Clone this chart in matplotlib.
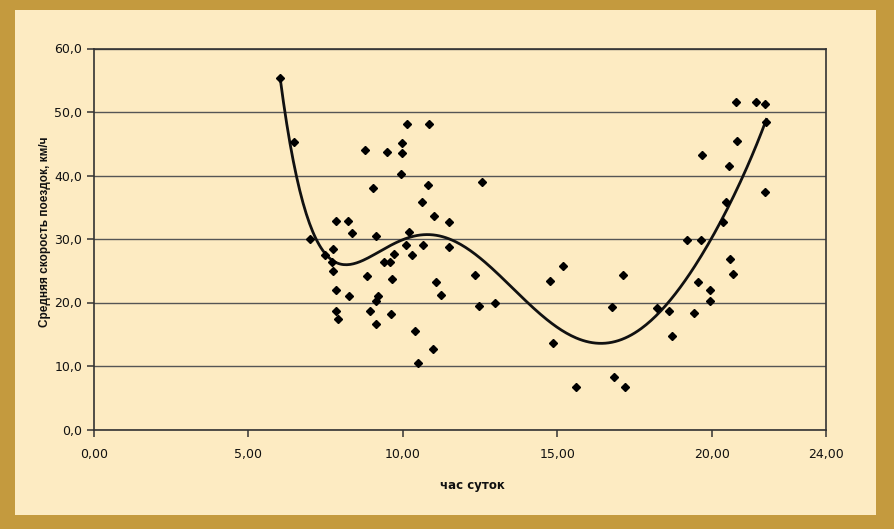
import numpy as np
import matplotlib
matplotlib.use("Agg")
import matplotlib.pyplot as plt
from matplotlib.patches import Rectangle

# час суток / средняя скорость (км/ч)
hours = [6.03, 6.48, 7.00, 7.49, 7.74, 7.71, 7.74, 7.82, 8.21, 8.35,
         7.84, 8.26, 7.82, 7.91, 8.76, 8.84, 8.95, 9.03, 9.14, 9.18,
         9.14, 9.14, 9.40, 9.57, 9.49, 9.60, 9.66, 9.72, 9.93, 9.97,
         9.97, 10.13, 10.19, 10.11, 10.31, 10.38, 10.48, 10.63, 10.64, 10.80,
         10.85, 10.98, 11.02, 11.06, 11.23, 11.49, 11.51, 12.32, 12.47, 12.55,
         12.98, 14.78, 14.86, 15.19, 15.61, 16.77, 16.83, 17.12, 17.18, 18.24,
         18.62, 18.71, 19.21, 19.43, 19.54, 19.64, 19.68, 19.94, 19.94, 20.35,
         20.45, 20.57, 20.59, 20.69, 20.78, 20.83, 21.42, 21.72, 21.74, 21.77]
speed = [55.3, 45.2, 30.0, 27.5, 28.5, 26.3, 25.0, 32.8, 32.8, 30.9,
         21.9, 21.0, 18.7, 17.4, 44.0, 24.2, 18.7, 38.1, 30.5, 21.1,
         20.3, 16.6, 26.4, 26.3, 43.7, 18.2, 23.7, 27.6, 40.2, 45.1,
         43.5, 48.1, 31.1, 29.1, 27.5, 15.5, 10.4, 35.9, 29.1, 38.5,
         48.1, 12.7, 33.7, 23.3, 21.2, 32.6, 28.8, 24.4, 19.4, 39.0,
         19.9, 23.4, 13.6, 25.7, 6.7, 19.3, 8.3, 24.4, 6.7, 19.1,
         18.7, 14.7, 29.8, 18.3, 23.3, 29.8, 43.2, 22.0, 20.2, 32.6,
         35.9, 41.5, 26.8, 24.5, 51.6, 45.5, 51.6, 37.4, 51.2, 48.5]

xticks = [0, 5, 10, 15, 20, 23.7]
xtick_labels = ["0,00", "5,00", "10,00", "15,00", "20,00", "24,00"]
yticks = [0, 10, 20, 30, 40, 50, 60]
ytick_labels = ["0,0", "10,0", "20,0", "30,0", "40,0", "50,0", "60,0"]

gold = "#C49A3E"
cream = "#FDEBC2"
ink = "#111111"

fig = plt.figure(figsize=(8.95, 5.29), dpi=100, facecolor=gold)
fig.patches.append(Rectangle((15 / 895, 14 / 529), 861 / 895, 505 / 529,
                             transform=fig.transFigure, facecolor=cream,
                             edgecolor="none", zorder=-10))

ax = fig.add_axes([94 / 895, 99.5 / 529, 732 / 895, 381 / 529])
ax.set_facecolor(cream)

# линия тренда (полином 6-й степени)
coef = np.polyfit(hours, speed, 6)
xs = np.linspace(min(hours), max(hours), 300)
ax.plot(xs, np.polyval(coef, xs), color=ink, lw=2.0, zorder=3)

ax.plot(hours, speed, linestyle="none", marker="D", markersize=4.2,
        color="black", zorder=4)

ax.set_xlim(0, 23.7)
ax.set_ylim(0, 60)
ax.set_xticks(xticks)
ax.set_xticklabels(xtick_labels)
ax.set_yticks(yticks)
ax.set_yticklabels(ytick_labels)
ax.yaxis.grid(True, color="#555555", lw=1.0)
ax.set_axisbelow(True)
for s in ax.spines.values():
    s.set_color("#333333")
    s.set_linewidth(1.2)
ax.tick_params(axis="both", colors="#333333", length=5, width=1.1,
               labelsize=9, labelcolor=ink)
for lab in ax.get_xticklabels() + ax.get_yticklabels():
    lab.set_family(["Liberation Sans Narrow", "DejaVu Sans"])
ax.tick_params(axis="x", pad=8)

fig.text(45 / 895, 1 - 232 / 529, "Средняя скорость поездок, км/ч",
         rotation=90, ha="center", va="center", fontsize=8.5,
         fontweight="bold", color=ink, family=["Liberation Sans", "DejaVu Sans"])
fig.text(472 / 895, 1 - 486 / 529, "час суток", ha="center", va="center",
         fontsize=8.5, fontweight="bold", color=ink,
         family=["Liberation Sans Narrow", "DejaVu Sans"])

fig.savefig("out.png", dpi=100, facecolor=gold)
